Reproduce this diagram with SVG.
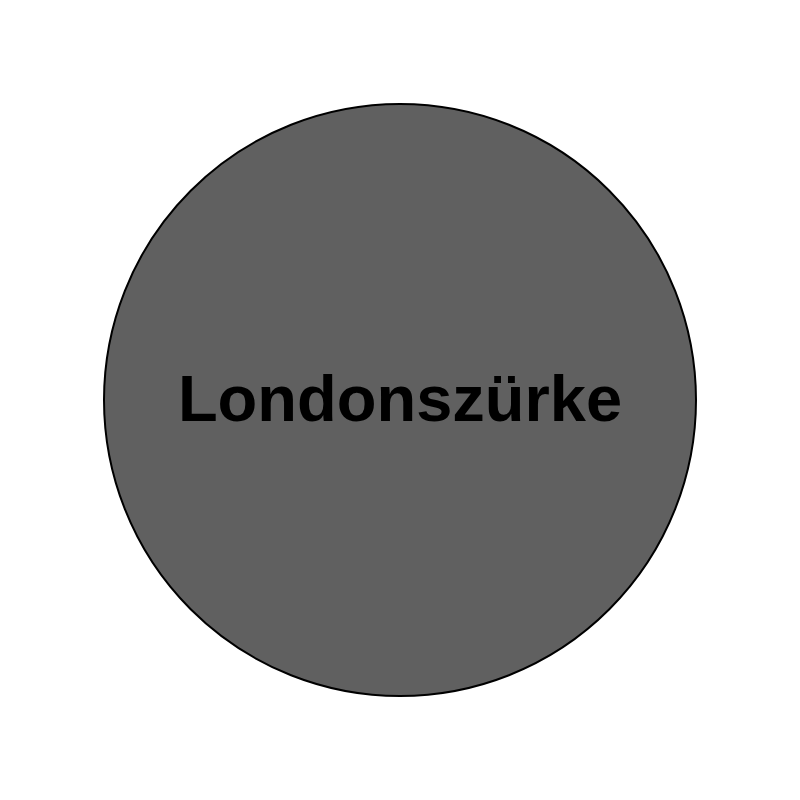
<svg xmlns="http://www.w3.org/2000/svg" width="800" height="800" viewBox="0 0 800 800">
<style>
.node{fill:#606060;stroke:#000000;stroke-width:2}
.label{font-family:"Liberation Sans",Arial,sans-serif;font-weight:bold;font-size:65px;fill:#000000;text-anchor:middle}
</style>
<rect width="800" height="800" fill="#ffffff"/>
<g id="connectors"></g>
<g id="node-londonszurke">
<circle class="node" cx="400" cy="400" r="296"/>
<text class="label" x="400" y="421">Londonszürke</text>
</g>
</svg>
